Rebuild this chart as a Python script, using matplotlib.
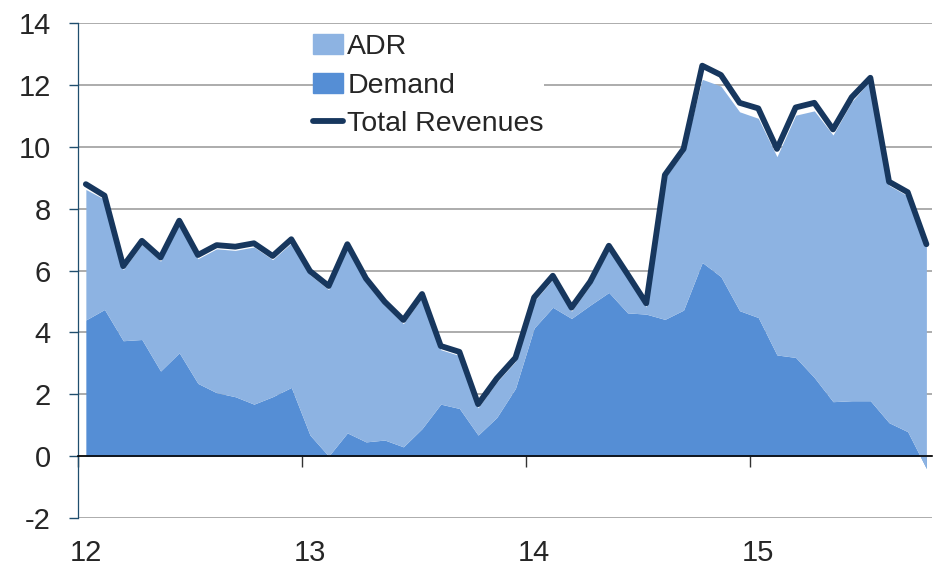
import matplotlib
matplotlib.use("Agg")
import matplotlib.pyplot as plt
import numpy as np
from matplotlib.patches import Patch
from matplotlib.lines import Line2D

# monthly observations starting at 2012 (x in years, "12" = 2012)
start_year = 12
total_revenues = [8.79, 8.42, 6.14, 6.96, 6.42, 7.61, 6.50, 6.82, 6.77, 6.88, 6.47, 7.01,
                  5.98, 5.50, 6.85, 5.74, 4.99, 4.40, 5.24, 3.56, 3.37, 1.68, 2.51, 3.18,
                  5.13, 5.83, 4.80, 5.64, 6.80, 5.88, 4.94, 9.09, 9.93, 12.62, 12.32, 11.42,
                  11.24, 9.93, 11.27, 11.42, 10.56, 11.60, 12.23, 8.87, 8.53, 6.85]
demand = [4.40, 4.74, 3.73, 3.77, 2.75, 3.34, 2.35, 2.05, 1.92, 1.68, 1.92, 2.22,
          0.68, 0.00, 0.75, 0.46, 0.52, 0.30, 0.89, 1.68, 1.54, 0.68, 1.25, 2.19,
          4.14, 4.81, 4.45, 4.88, 5.29, 4.63, 4.59, 4.42, 4.72, 6.26, 5.80, 4.70,
          4.48, 3.27, 3.19, 2.54, 1.76, 1.79, 1.79, 1.08, 0.79, -0.40]
adr = [4.22, 3.56, 2.29, 3.07, 3.55, 4.15, 4.03, 4.65, 4.73, 5.08, 4.43, 4.67,
       5.18, 5.38, 5.98, 5.16, 4.35, 3.98, 4.23, 1.76, 1.71, 0.88, 1.14, 0.87,
       0.87, 0.90, 0.23, 0.64, 1.39, 1.13, 0.23, 4.58, 5.08, 5.92, 6.16, 6.43,
       6.44, 6.41, 7.83, 8.62, 8.62, 9.66, 10.36, 7.67, 7.62, 7.17]
x_ticks = [12, 13, 14, 15]
x_tick_labels = ["12", "13", "14", "15"]
y_ticks = [-2, 0, 2, 4, 6, 8, 10, 12, 14]

LIGHT = "#8DB3E2"
DARK = "#558ED5"
LINE = "#17375E"
AXC = "#1F4E6E"

n = len(total_revenues)
x = start_year + (np.arange(n) + 0.42) / 12.0
d = np.array(demand)
a = np.array(adr)

fig = plt.figure(figsize=(9.38, 5.69), dpi=100)
ax = fig.add_axes([78/938, 1-518/569, (932-78)/938, (518-23)/569])

ax.fill_between(x, 0, d, color=DARK, lw=0, zorder=2)
ax.fill_between(x, d, d + a, color=LIGHT, lw=0, zorder=3)
ax.plot(x, total_revenues, color=LINE, lw=4.2, zorder=4, solid_joinstyle="round",
        solid_capstyle="round")

ax.set_xlim(12, 15.81)
ax.set_ylim(-2, 14)
ax.set_yticks(y_ticks)
ax.set_yticklabels([str(v) for v in y_ticks])
ax.grid(axis="y", color="#A6A6A6", lw=1.3)
ax.set_axisbelow(True)

for s in ["top", "right"]:
    ax.spines[s].set_visible(False)
ax.spines["left"].set_color(AXC)
ax.spines["left"].set_linewidth(0.9)
ax.spines["bottom"].set_position(("data", 0))
ax.spines["bottom"].set_color("black")
ax.spines["bottom"].set_linewidth(1.2)
ax.spines["bottom"].set_zorder(5)

fam = "Liberation Sans"
ax.set_xticks(x_ticks)
ax.tick_params(axis="x", direction="out", length=8, width=1.0, color="#333333", labelbottom=False)
ax.tick_params(axis="y", direction="out", length=6.5, width=1.0, color=AXC, labelsize=21,
               labelcolor="#262626", pad=13)
for lab in ax.get_yticklabels():
    lab.set_family(fam)

# year labels sit under the first month of each year
label_pos = [x[12 * (t - start_year)] for t in x_ticks]
sec = ax.secondary_xaxis("bottom")
sec.set_xticks(label_pos)
sec.set_xticklabels(x_tick_labels)
sec.tick_params(length=0, labelsize=21, labelcolor="#262626", pad=15)
sec.spines["bottom"].set_visible(False)
for lab in sec.get_xticklabels():
    lab.set_family(fam)

handles = [Patch(color=LIGHT, label="ADR"),
           Patch(color=DARK, label="Demand"),
           Line2D([0], [0], color=LINE, lw=4.2, label="Total Revenues", solid_capstyle="round")]
leg = ax.legend(handles=handles, loc="upper left", bbox_to_anchor=((313-78)/854, 1-(34-23)/495),
                frameon=True, facecolor="white", edgecolor="none", framealpha=1,
                prop={"family": fam, "size": 20.5}, handlelength=1.05,
                handletextpad=0.15, labelspacing=0.44, borderpad=0.0, borderaxespad=0.0,
                fancybox=False)
for t in leg.get_texts():
    t.set_color("#262626")
leg.set_zorder(6)

fig.savefig("out.png", dpi=100)
